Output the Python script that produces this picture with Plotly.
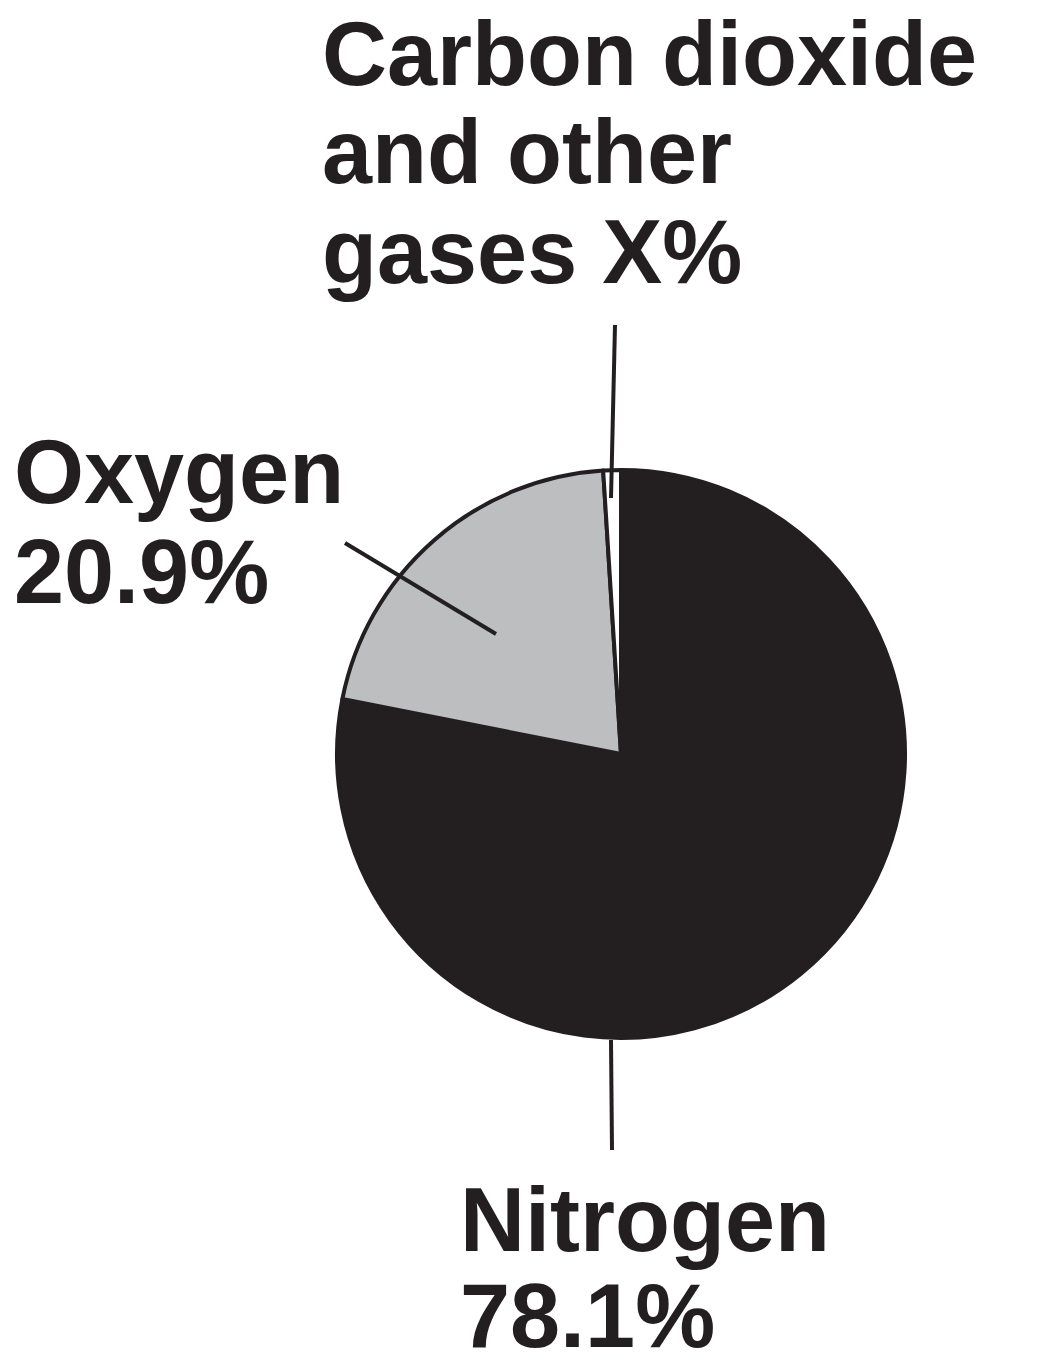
import plotly.graph_objects as go

labels = ["Nitrogen", "Oxygen", "Carbon dioxide and other gases"]
values = [78.1, 20.9, 1.0]
colors = ["#231f20", "#bcbec0", "#ffffff"]

W, H = 1040, 1364
OFF = 8
fig = go.Figure(go.Pie(
    labels=labels, values=values, sort=False, direction="clockwise", rotation=0,
    marker=dict(colors=colors, line=dict(color="#231f20", width=4)),
    textinfo="none", hoverinfo="label+percent",
    domain=dict(x=[(337-OFF)/W, (905-OFF)/W], y=[1-(754-OFF+284)/H, 1-(754-OFF-284)/H]),
))

def px(x, y):
    return (x - OFF) / W, 1 - (y - OFF) / H

font = dict(family="Liberation Sans", size=90, color="#231f20")
# (text, left x, baseline y)
texts = [
    ("Carbon dioxide", 320, 84), ("and other", 320, 182), ("gases X%", 320, 282),
    ("Oxygen", 12, 502), ("20.9%", 12, 602),
    ("Nitrogen", 458, 1250), ("78.1%", 458, 1346),
]
anns = []
for t, x, y in texts:
    ax, ay = px(x, y - 30)
    anns.append(dict(text="<b>" + t + "</b>", x=ax, y=ay, xref="paper", yref="paper",
                     xanchor="left", yanchor="middle", align="left", showarrow=False, font=font))
lines = [((615, 325), (611, 498)), ((345, 543), (496, 634)), ((611, 1040), (612, 1150))]
shapes = []
for (x0, y0), (x1, y1) in lines:
    a, b = px(x0, y0); c, d = px(x1, y1)
    shapes.append(dict(type="line", xref="paper", yref="paper", x0=a, y0=b, x1=c, y1=d,
                       line=dict(color="#231f20", width=4)))

fig.update_layout(width=W, height=H, margin=dict(l=0, r=0, t=0, b=0), showlegend=False,
                  paper_bgcolor="white", annotations=anns, shapes=shapes)
fig.write_html("out.html")
